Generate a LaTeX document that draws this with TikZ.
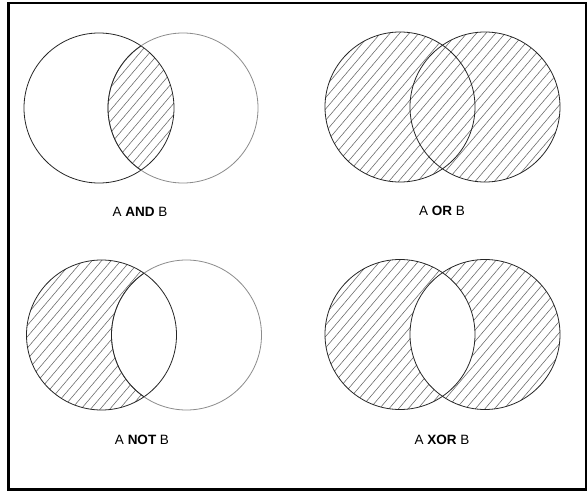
\documentclass[tikz,border=0pt]{standalone}
\usepackage{fontspec}
\setmainfont{Liberation Sans}
\tikzset{
  dark/.style={draw=black!85, line width=0.8pt},
  light/.style={draw=black!45, line width=0.8pt},
  hatchline/.style={draw=black!60, line width=0.55pt},
  lbl/.style={font=\fontsize{13.5}{16}\selectfont, inner sep=0pt, anchor=center},
  frame/.style={draw=black, line width=2.5pt}
}
\newcommand{\hatchlines}{%
  \foreach \i in {-22,...,22} {\draw[hatchline] ({\i*9.6-136},160) -- ({\i*9.6+136},-160);}%
}
\begin{document}
\begin{tikzpicture}[x=1pt,y=-1pt]
\useasboundingbox (0,0) rectangle (587,493);
\fill[white] (0,0) rectangle (587,493);
\draw[frame] (8.5,3) rectangle (586,489.5);

% A AND B
\begin{scope}[shift={(141,108)}]
  \coordinate (a1) at (-42,0);
  \coordinate (b1) at (42,0);
  \begin{scope}
    \clip (a1) circle (75);
    \clip (b1) circle (75);
    \hatchlines
  \end{scope}
  \draw[dark] (a1) circle (75);
  \draw[light] (b1) circle (75);
  \begin{scope}
    \clip (a1) circle (75);
    \draw[dark] (b1) circle (75);
  \end{scope}
\end{scope}
\node[lbl] (land) at (140,212) {A \textbf{AND} B};

% A OR B
\begin{scope}[shift={(442.5,107)}]
  \coordinate (a2) at (-42.5,0);
  \coordinate (b2) at (42.5,0);
  \begin{scope}
    \clip (a2) circle (75) (b2) circle (75);
    \hatchlines
  \end{scope}
  \draw[dark] (a2) circle (75);
  \draw[dark] (b2) circle (75);
\end{scope}
\node[lbl] (lor) at (442,211) {A \textbf{OR} B};

% A NOT B
\begin{scope}[shift={(144,335)}]
  \coordinate (a3) at (-42.5,0);
  \coordinate (b3) at (42.5,0);
  \begin{scope}[even odd rule]
    \clip (a3) circle (75);
    \clip (a3) circle (75) (b3) circle (75);
    \hatchlines
  \end{scope}
  \draw[dark] (a3) circle (75);
  \draw[light] (b3) circle (75);
  \begin{scope}
    \clip (a3) circle (75);
    \draw[dark] (b3) circle (75);
  \end{scope}
\end{scope}
\node[lbl] (lnot) at (142,440) {A \textbf{NOT} B};

% A XOR B
\begin{scope}[shift={(442.5,334.5)}]
  \coordinate (a4) at (-42.5,0);
  \coordinate (b4) at (42.5,0);
  \begin{scope}[even odd rule]
    \clip (a4) circle (75) (b4) circle (75);
    \hatchlines
  \end{scope}
  \draw[dark] (a4) circle (75);
  \draw[dark] (b4) circle (75);
\end{scope}
\node[lbl] (lxor) at (442,440) {A \textbf{XOR} B};
\end{tikzpicture}
\end{document}
